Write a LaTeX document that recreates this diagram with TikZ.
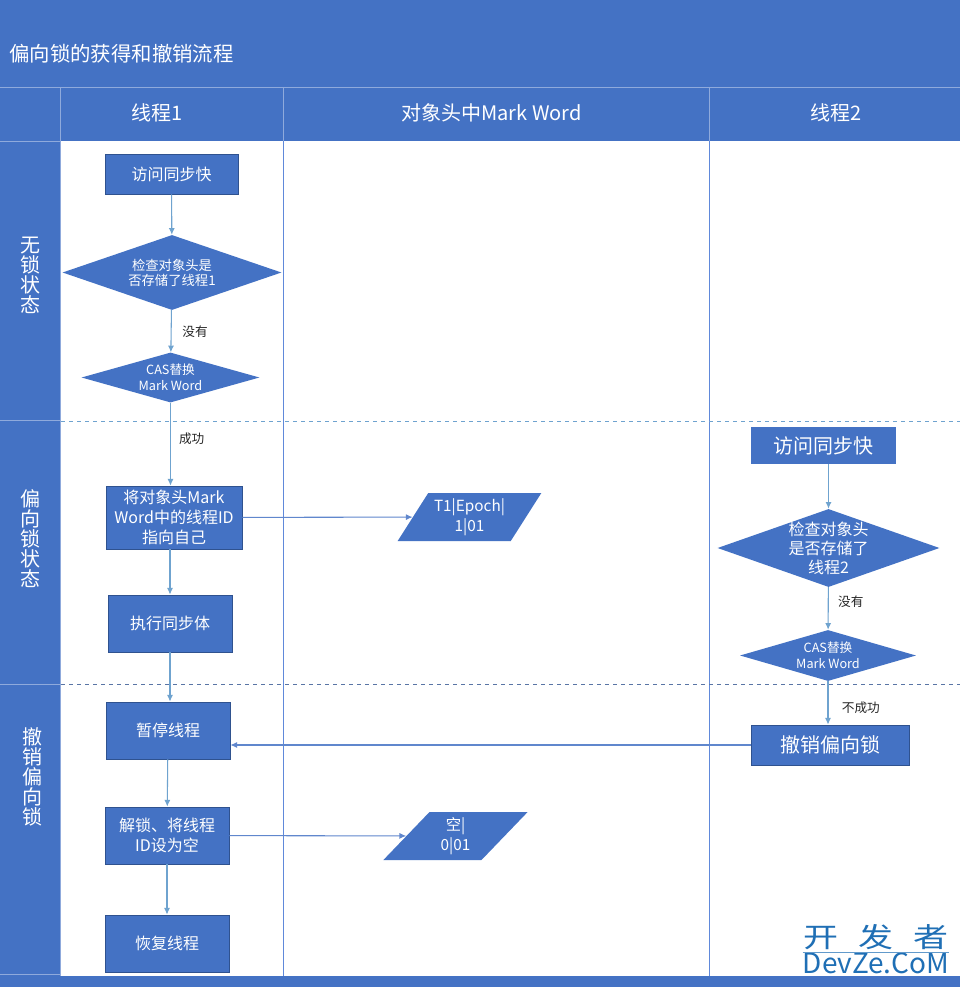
\documentclass[tikz,border=0pt]{standalone}
\usepackage{xcolor}
\usepackage{fontspec}
\setmainfont{Noto Sans CJK SC}
\usetikzlibrary{arrows.meta,positioning,shapes.geometric}
\definecolor{laneblue}{HTML}{4472C4}
\definecolor{edgeblue}{HTML}{2F528F}
\definecolor{headline}{HTML}{8FAADC}
\definecolor{laneline}{HTML}{6089DA}
\definecolor{flowline}{HTML}{6FA3CF}
\definecolor{markblue}{HTML}{1F6FB5}

\begin{document}
\begin{tikzpicture}[
    x=0.75pt, y=-0.75pt,
    sized/.style 2 args={minimum width=#1*0.75pt, minimum height=#2*0.75pt},
    flow/.style={draw=edgeblue, line width=0.6pt, fill=laneblue, text=white, align=center, inner sep=0pt,
      font=\fontsize{12}{15}\selectfont},
    flowbig/.style={flow, font=\fontsize{15}{18}\selectfont},
    check/.style n args={3}{diamond, fill=laneblue, text=white, align=center, inner sep=-6pt,
      sized={#1}{#2}, aspect=#3, font=\fontsize{10}{11.3}\selectfont},
    word/.style={trapezium, trapezium left angle=54.7, trapezium right angle=125.3,
      trapezium stretches=true, fill=laneblue, text=white, align=center, inner sep=0pt,
      sized={145}{48}, font=\fontsize{11.5}{15}\selectfont},
    head/.style={text=white, inner sep=0pt, font=\fontsize{15}{18}\selectfont},
    side/.style={text=white, align=center, inner sep=0pt, font=\fontsize{15}{15}\selectfont},
    tag/.style={text=black!85, inner sep=0pt, font=\fontsize{9.5}{11}\selectfont},
    arrow/.style={draw=flowline, line width=0.8pt, -{Latex[length=5pt,width=4.5pt]}},
    across/.style={draw=laneblue!85!white, line width=0.8pt, -{Latex[length=5pt,width=4.5pt]}},
    lane/.style={draw=laneline, line width=1pt},
    split/.style={draw=flowline, line width=0.7pt, dashed}
  ]
    \useasboundingbox (0,0) rectangle (960,987);
    \fill[laneblue] (0,0) rectangle (960,987);
    \fill[white] (61,141) rectangle (960,976);

    \draw[headline, line width=0.6pt] (0,87) -- (960,87);
    \draw[headline, line width=0.6pt] (0,141) -- (61,141);
    \draw[headline, line width=0.6pt] (0,420.5) -- (61,420.5);
    \draw[headline, line width=0.6pt] (0,684) -- (61,684);
    \draw[headline, line width=0.6pt] (0,974.5) -- (61,974.5);
    \draw[headline, line width=0.6pt] (60.5,87) -- (60.5,976);
    \draw[headline, line width=0.6pt] (283.5,87) -- (283.5,141);
    \draw[headline, line width=0.6pt] (709.5,87) -- (709.5,141);
    \draw[lane] (283.5,141) -- (283.5,976);
    \draw[lane] (709.5,141) -- (709.5,976);
    \draw[split] (61,421.5) -- (960,421.5);
    \draw[split, draw=edgeblue!80] (61,684.5) -- (960,684.5);

    \node[head, anchor=west, font=\fontsize{15.3}{18}\selectfont] (title) at (9,54) {偏向锁的获得和撤销流程};
    \node[head] (thread1) at (157,113) {线程1};
    \node[head] (markword) at (491.5,113) {对象头中Mark Word};
    \node[head] (thread2) at (836.5,113) {线程2};

    \node[side] (nolock) at (30,275) {无\\锁\\状\\态};
    \node[side] (biased) at (30,539) {偏\\向\\锁\\状\\态};
    \node[side] (revoking) at (32,777) {撤\\销\\偏\\向\\锁};

    \node[flow, sized={133}{40}] (visita) at (171.5,174) {访问同步快};
    \node[check={219}{75}{2.92}] (checka) at (172,272.5) {检查对象头是\\否存储了线程1};
    \node[check={178}{50}{3.56}, font=\fontsize{9.5}{12}\selectfont] (casa) at (170.5,377.5) {CAS替换\\Mark Word};
    \node[flow, sized={136}{63}] (setid) at (174,517.5) {将对象头Mark\\Word中的线程ID\\指向自己};
    \node[flow, sized={124}{57}] (runbody) at (170,623.5) {执行同步体};
    \node[flow, sized={124}{57}] (pause) at (168,730.5) {暂停线程};
    \node[flow, sized={124}{57}] (unlock) at (167,835.5) {解锁、将线程\\ID设为空};
    \node[flow, sized={124}{57}] (resume) at (167,943.5) {恢复线程};

    \node[word] (wordta) at (469.5,517) {T1|Epoch|\\1|01};
    \node[word] (wordempty) at (455.5,836) {空|\\0|01};

    \node[flowbig, sized={145}{37}, draw=none] (visitb) at (823.5,445.5) {访问同步快};
    \node[check={222}{78}{2.85}, font=\fontsize{12}{14.3}\selectfont] (checkb) at (828.5,548) {检查对象头\\是否存储了\\线程2};
    \node[check={176}{51}{3.45}, font=\fontsize{9.5}{12}\selectfont] (casb) at (828,655.5) {CAS替换\\Mark Word};
    \node[flowbig, sized={158}{40}] (revoke) at (830,745) {撤销偏向锁};

    \draw[arrow] (visita) -- (checka);
    \draw[arrow] (checka) -- node[tag, pos=0.5, right=8pt] {没有} (casa);
    \draw[arrow] (casa) -- node[tag, pos=0.44, right=6pt] {成功} (casa.south |- setid.north);
    \draw[arrow] (runbody.north |- setid.south) -- (runbody.north);
    \draw[arrow] (runbody.south) -- (runbody.south |- pause.north);
    \draw[arrow] (pause) -- (unlock);
    \draw[arrow] (unlock) -- (resume);
    \draw[across] (setid) -- (wordta);
    \draw[across] (unlock) -- (wordempty);
    \draw[arrow] (visitb.south -| checkb.north) -- (checkb);
    \draw[arrow] (checkb) -- node[tag, pos=0.35, right=7pt] {没有} (casb);
    \draw[arrow] (casb.south) -- node[tag, pos=0.6, right=10pt] {不成功} (casb.south |- revoke.north);
    \draw[across] (revoke.west) -- (revoke.west -| pause.east);

    \node[text=markblue, inner sep=0pt, font=\fontsize{20.5}{22}\selectfont] (markcn) at (876,937) {\scalebox{1.28}[1]{开\hspace{0.57em}发\hspace{0.57em}者}};
    \node[text=markblue, inner sep=0pt, anchor=north, font=\fontsize{21}{24}\selectfont] (markurl) at (876,952) {DevZe.CoM};
    \draw[markblue!70!white, line width=0.5pt] (markurl.north west) -- (markurl.north east);
  \end{tikzpicture}
\end{document}
